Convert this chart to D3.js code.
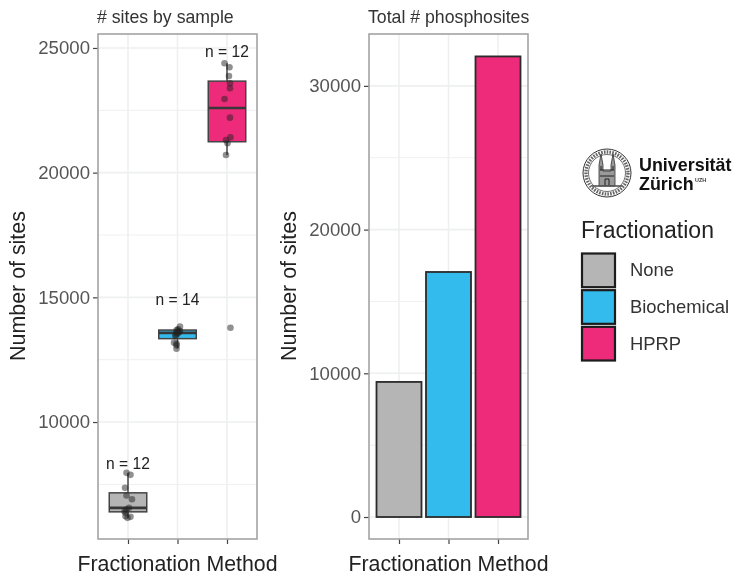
<!DOCTYPE html>
<html>
<head>
<meta charset="utf-8">
<script src="https://cdn.jsdelivr.net/npm/d3@7"></script>
<style>
  html, body { margin: 0; background: #fff; }
  svg { display: block; filter: blur(0.6px); font-family: "Liberation Sans", Arial, sans-serif; }
</style>
</head>
<body>
<div id="container"></div>
<script>
/* DATA */
const methods = ["None", "Biochemical", "HPRP"];
const methodColors = ["#b5b5b5", "#33bbee", "#ee2a7b"];
const totalSites = [9400, 17050, 32050];

const boxLow = [6170, 12950, 20710];
const boxQ1 = [6399, 13344, 21240];
const boxMedian = [6560, 13577, 22590];
const boxQ3 = [7161, 13689, 23670];
const boxHigh = [7960, 13825, 24386];
const sampleLabels = ["n = 12", "n = 14", "n = 12"];
const sampleLabelAt = [8135, 14680, 24640];

const noneSites = [7963, 7883, 7361, 7053, 6904, 6560, 6491, 6423, 6359, 6222, 6198, 6158];
const noneJitter = [-0.03, 0.05, -0.06, -0.03, 0.08, 0.02, -0.03, -0.07, -0.05, -0.05, 0.05, -0.01];
const biochemSites = [13825, 13717, 13677, 13650, 13625, 13597, 13585, 13545, 13489, 13449, 13184, 13144, 13076, 12943];
const biochemJitter = [0.05, 0.01, -0.02, 0.05, 0.01, 0.03, -0.02, 0, -0.04, -0.04, -0.07, -0.02, -0.02, -0.02];
const hprpSites = [24386, 24226, 23877, 23584, 23384, 22955, 22205, 21419, 21311, 21178, 20709, 13780];
const hprpJitter = [-0.05, 0.05, 0.04, 0.06, 0.06, -0.05, 0.06, 0.07, -0.02, 0.01, -0.02, 0.07];

const leftTicks = [10000, 15000, 20000, 25000];
const rightTicks = [0, 10000, 20000, 30000];

/* CONSTANTS */
const width = 736, height = 576;
const panelTop = 34, panelBottom = 539;
const tickColor = "#555", gridColor = "#eef0ef", borderColor = "#a3a3a3", darkLine = "#2b2b2b";

const svg = d3.select("#container").append("svg")
  .attr("width", width)
  .attr("height", height);

/* PANEL HELPER: border, grid, axes, labels */
function drawPanel(left, right, yScale, ticks, minor, title) {
  const xScale = d3.scalePoint().domain(methods).range([left + 30, right - 30]);
  const g = svg.append("g");

  g.selectAll(".minor").data(minor).join("line")
    .attr("x1", left).attr("x2", right)
    .attr("y1", d => yScale(d)).attr("y2", d => yScale(d))
    .attr("stroke", gridColor).attr("stroke-width", 1);
  g.selectAll(".major").data(ticks).join("line")
    .attr("x1", left).attr("x2", right)
    .attr("y1", d => yScale(d)).attr("y2", d => yScale(d))
    .attr("stroke", gridColor).attr("stroke-width", 1.6);
  g.selectAll(".vert").data(methods).join("line")
    .attr("x1", d => xScale(d)).attr("x2", d => xScale(d))
    .attr("y1", panelTop).attr("y2", panelBottom)
    .attr("stroke", gridColor).attr("stroke-width", 1.6);

  const yAxis = svg.append("g")
    .attr("transform", `translate(${left},0)`)
    .call(d3.axisLeft(yScale).tickValues(ticks).tickFormat(d3.format("d")).tickSize(5).tickPadding(3));
  yAxis.select(".domain").remove();
  yAxis.selectAll("line").attr("stroke", "#444").attr("stroke-width", 1.2);
  yAxis.selectAll("text").attr("fill", tickColor).style("font-size", "18.6px");

  const xAxis = svg.append("g")
    .attr("transform", `translate(0,${panelBottom})`)
    .call(d3.axisBottom(xScale).tickFormat("").tickSize(5));
  xAxis.select(".domain").remove();
  xAxis.selectAll("line").attr("stroke", "#444").attr("stroke-width", 1.2);

  svg.append("text").attr("x", left - 1).attr("y", 23)
    .attr("fill", "#333").style("font-size", "17.7px").text(title);
  svg.append("text").attr("x", (left + right) / 2).attr("y", 571)
    .attr("text-anchor", "middle").attr("fill", "#222").style("font-size", "21.3px")
    .text("Fractionation Method");
  svg.append("text")
    .attr("transform", `translate(${left - 73},${(panelTop + panelBottom) / 2 - 0.5}) rotate(-90)`)
    .attr("text-anchor", "middle").attr("fill", "#222").style("font-size", "21.4px")
    .text("Number of sites");

  return xScale;
}

function drawBorder(left, right) {
  svg.append("rect")
    .attr("x", left).attr("y", panelTop)
    .attr("width", right - left).attr("height", panelBottom - panelTop)
    .attr("fill", "none").attr("stroke", borderColor).attr("stroke-width", 1.6);
}

/* LEFT PANEL: boxplots with jittered samples */
const yLeft = d3.scaleLinear().domain([5310, 25560]).range([panelBottom, panelTop]);
const xLeft = drawPanel(98, 257, yLeft, leftTicks, [7500, 12500, 17500, 22500], "# sites by sample");
const boxWidth = 37.5;
const categoryStep = xLeft.step();

const boxes = svg.append("g").selectAll("g").data(methods).join("g");
boxes.append("line")
  .attr("x1", d => xLeft(d)).attr("x2", d => xLeft(d))
  .attr("y1", (d, i) => yLeft(boxLow[i])).attr("y2", (d, i) => yLeft(boxHigh[i]))
  .attr("stroke", "#444").attr("stroke-width", 1.5);
boxes.append("rect")
  .attr("x", d => xLeft(d) - boxWidth / 2).attr("width", boxWidth)
  .attr("y", (d, i) => yLeft(boxQ3[i]))
  .attr("height", (d, i) => yLeft(boxQ1[i]) - yLeft(boxQ3[i]))
  .attr("fill", (d, i) => methodColors[i])
  .attr("stroke", "#444").attr("stroke-width", 1.5);
boxes.append("line")
  .attr("x1", d => xLeft(d) - boxWidth / 2).attr("x2", d => xLeft(d) + boxWidth / 2)
  .attr("y1", (d, i) => yLeft(boxMedian[i])).attr("y2", (d, i) => yLeft(boxMedian[i]))
  .attr("stroke", "#383838").attr("stroke-width", 2.6);

const samples = [noneSites, biochemSites, hprpSites].flatMap((vals, i) => {
  const jitter = [noneJitter, biochemJitter, hprpJitter][i];
  return vals.map((v, j) => ({ method: methods[i], value: v, jitter: jitter[j] }));
});
svg.append("g").selectAll("circle").data(samples).join("circle")
  .attr("cx", d => xLeft(d.method) + d.jitter * categoryStep)
  .attr("cy", d => yLeft(d.value))
  .attr("r", 3.3)
  .attr("fill", "#222")
  .attr("fill-opacity", 0.5);

svg.append("g").selectAll("text").data(methods).join("text")
  .attr("x", d => xLeft(d))
  .attr("y", (d, i) => yLeft(sampleLabelAt[i]))
  .attr("text-anchor", "middle")
  .attr("fill", "#222")
  .style("font-size", "15.6px")
  .text((d, i) => sampleLabels[i]);
drawBorder(98, 257);

/* RIGHT PANEL: totals */
const yRight = d3.scaleLinear().domain([-1530, 33610]).range([panelBottom, panelTop]);
const xRight = drawPanel(369, 528, yRight, rightTicks, [5000, 15000, 25000], "Total # phosphosites");
const barWidth = 45;

svg.append("g").selectAll("rect").data(methods).join("rect")
  .attr("x", d => xRight(d) - barWidth / 2)
  .attr("width", barWidth)
  .attr("y", (d, i) => yRight(totalSites[i]))
  .attr("height", (d, i) => yRight(0) - yRight(totalSites[i]))
  .attr("fill", (d, i) => methodColors[i])
  .attr("stroke", darkLine)
  .attr("stroke-width", 1.8);
drawBorder(369, 528);

/* LEGEND */
svg.append("text").attr("x", 581).attr("y", 238)
  .attr("fill", "#222").style("font-size", "23px").text("Fractionation");

const legendScale = d3.scaleBand().domain(methods).range([252, 362]);
const legend = svg.append("g").selectAll("g").data(methods).join("g")
  .attr("transform", d => `translate(582,${legendScale(d)})`);
legend.append("rect")
  .attr("x", 0).attr("y", 1.5)
  .attr("width", 33).attr("height", legendScale.bandwidth() - 3)
  .attr("fill", (d, i) => methodColors[i])
  .attr("stroke", "#1c1c1c").attr("stroke-width", 2.2);
legend.append("text")
  .attr("x", 48)
  .attr("y", legendScale.bandwidth() / 2 + 6)
  .attr("fill", "#333")
  .style("font-size", "18.4px")
  .text(d => d);

/* LOGO: Universitat Zurich seal and wordmark */
const logo = svg.append("g").attr("transform", "translate(607,173)");
logo.append("circle").attr("r", 24).attr("fill", "#fff").attr("stroke", "#333").attr("stroke-width", 1);
logo.append("circle").attr("r", 21).attr("fill", "none").attr("stroke", "#666").attr("stroke-width", 3.4).attr("stroke-dasharray", "1.6 1.2");
logo.append("circle").attr("r", 18.5).attr("fill", "none").attr("stroke", "#333").attr("stroke-width", 0.7);
logo.append("path")
  .attr("d", "M-8,13V-8L-6,-19L-4,-8V-2H4V-8L6,-19L8,-8V13Z")
  .attr("fill", "#999").attr("stroke", "#333").attr("stroke-width", 0.8);
logo.append("path")
  .attr("d", "M-7,3H7M-7,-3H7M-2,13V6H2V13M-6,-7V-3M6,-7V-3")
  .attr("fill", "none").attr("stroke", "#222").attr("stroke-width", 1);
logo.append("path")
  .attr("d", "M-15,13H15")
  .attr("fill", "none").attr("stroke", "#555").attr("stroke-width", 1.6);

svg.append("text").attr("x", 639).attr("y", 171)
  .attr("fill", "#111").style("font-weight", "bold").style("font-size", "17.9px").text("Universität");
svg.append("text").attr("x", 639).attr("y", 190)
  .attr("fill", "#111").style("font-weight", "bold").style("font-size", "17.9px").text("Zürich");
svg.append("text").attr("x", 695).attr("y", 182)
  .attr("fill", "#333").style("font-weight", "bold").style("font-size", "5.4px").text("UZH");
</script>
</body>
</html>
